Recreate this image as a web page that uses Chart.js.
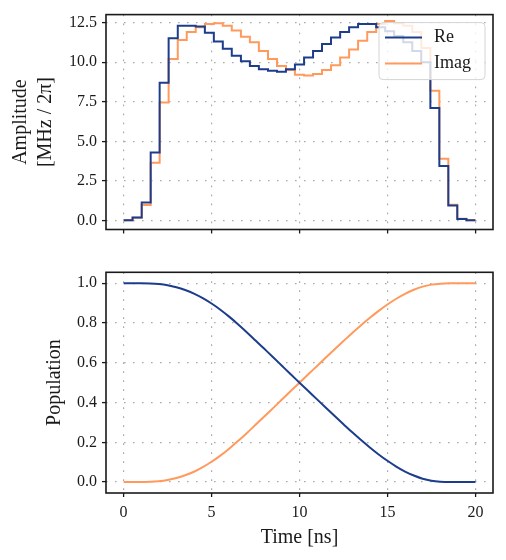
<!DOCTYPE html>
<html>
<head>
<meta charset="utf-8">
<title>Pulse amplitude and population</title>
<script src="https://cdn.jsdelivr.net/npm/chart.js@4.4.0/dist/chart.umd.min.js"></script>
<style>
    body { margin: 0; background: #ffffff; }
    #wrap { position: relative; width: 506px; height: 560px; }
    .panel { position: absolute; left: 0; }
    #top-panel { top: 0; }
    #bottom-panel { top: 250px; }
</style>
</head>
<body>
<div id="wrap">
    <div class="panel" id="top-panel"><canvas id="ampChart" width="506" height="250"></canvas></div>
    <div class="panel" id="bottom-panel"><canvas id="popChart" width="506" height="310"></canvas></div>
</div>

<script>
// data //

// start of every piecewise constant step (last entry = end of pulse)
const stepTime = [0.00, 0.51, 1.03, 1.54, 2.05, 2.56, 3.08, 3.59, 4.10, 4.62,
                  5.13, 5.64, 6.15, 6.67, 7.18, 7.69, 8.21, 8.72, 9.23, 9.74,
                  10.26, 10.77, 11.28, 11.79, 12.31, 12.82, 13.33, 13.85, 14.36, 14.87,
                  15.38, 15.90, 16.41, 16.92, 17.44, 17.95, 18.46, 18.97, 19.49, 20.00];

// amplitude per step [MHz / 2pi]
const ampRe = [0.02, 0.20, 1.15, 4.30, 8.70, 11.50, 12.30, 12.30, 12.25, 11.85,
               11.30, 10.85, 10.40, 10.05, 9.75, 9.55, 9.45, 9.40, 9.55, 9.85,
               10.30, 10.70, 11.15, 11.55, 11.90, 12.20, 12.40, 12.40, 12.20, 11.95,
               11.65, 11.25, 10.70, 10.00, 7.10, 3.45, 0.95, 0.10, 0.02];

const ampImag = [0.02, 0.18, 0.98, 3.65, 7.45, 10.20, 11.40, 11.90, 12.20, 12.40,
                 12.45, 12.30, 12.00, 11.60, 11.25, 10.70, 10.20, 9.75, 9.50, 9.20,
                 9.15, 9.25, 9.50, 9.80, 10.30, 10.80, 11.35, 11.90, 12.40, 12.60,
                 12.45, 12.30, 11.90, 10.90, 8.20, 3.90, 1.00, 0.12, 0.03];

const popTime = [0, 0.5, 1, 1.5, 2, 2.5, 3, 3.5, 4, 4.5,
                 5, 5.5, 6, 6.5, 7, 7.5, 8, 8.5, 9, 9.5,
                 10, 10.5, 11, 11.5, 12, 12.5, 13, 13.5, 14, 14.5,
                 15, 15.5, 16, 16.5, 17, 17.5, 18, 18.5, 19, 19.5, 20];

const popRe = [1.000, 1.000, 1.000, 0.999, 0.996, 0.990, 0.980, 0.966, 0.948, 0.925,
               0.898, 0.867, 0.832, 0.794, 0.754, 0.712, 0.670, 0.628, 0.585, 0.542,
               0.500, 0.458, 0.416, 0.374, 0.332, 0.291, 0.250, 0.211, 0.174, 0.139,
               0.107, 0.078, 0.053, 0.033, 0.017, 0.007, 0.002, 0.000, 0.000, 0.000, 0.000];

const popImag = [0.000, 0.000, 0.000, 0.001, 0.004, 0.010, 0.020, 0.034, 0.052, 0.075,
                 0.102, 0.133, 0.168, 0.206, 0.246, 0.288, 0.330, 0.372, 0.415, 0.458,
                 0.500, 0.542, 0.584, 0.626, 0.668, 0.709, 0.750, 0.789, 0.826, 0.861,
                 0.893, 0.922, 0.947, 0.967, 0.983, 0.993, 0.998, 1.000, 1.000, 1.000, 1.000];

const seriesNames = ['Re', 'Imag'];
const timeTicks = [0, 5, 10, 15, 20];
const ampTicks = [0, 2.5, 5, 7.5, 10, 12.5];
const popTicks = [0, 0.2, 0.4, 0.6, 0.8, 1.0];

// styles //

const blue = '#1c3d8c';
const orange = '#ff9a5c';
const ink = '#1a1a1a';
const gridColor = '#ababab';
const gridDash = [1.6, 7.4];

Chart.defaults.font.family = '"Liberation Serif", "DejaVu Serif", serif';
Chart.defaults.color = ink;

// steps: value k is held from stepTime[k] to stepTime[k+1]
function stepPoints(values) {
    return stepTime.map((t, i) => ({ x: t, y: values[Math.min(i, values.length - 1)] }));
}

function pairPoints(times, values) {
    return times.map((t, i) => ({ x: t, y: values[i] }));
}

// full box around the plot area, like the matplotlib spines
const framePlugin = {
    id: 'frame',
    afterDatasetsDraw(chart) {
        const { ctx, chartArea: a } = chart;
        ctx.save();
        ctx.strokeStyle = ink;
        ctx.lineWidth = 1.6;
        ctx.strokeRect(a.left, a.top, a.right - a.left, a.bottom - a.top);
        ctx.restore();
    }
};

// legend in the upper right corner, on top of the lines
const cornerLegend = {
    id: 'cornerLegend',
    afterDatasetsDraw(chart) {
        const { ctx, chartArea: a } = chart;
        const w = 106, h = 57;
        const x = a.right - 8 - w, y = a.top + 8;
        ctx.save();
        ctx.beginPath();
        ctx.roundRect(x, y, w, h, 4);
        ctx.fillStyle = 'rgba(255, 255, 255, 0.8)';
        ctx.fill();
        ctx.strokeStyle = '#d4d4d4';
        ctx.lineWidth = 1;
        ctx.stroke();
        chart.data.datasets.forEach((ds, i) => {
            const ly = y + 15 + i * 26;
            ctx.strokeStyle = ds.borderColor;
            ctx.lineWidth = 2;
            ctx.beginPath();
            ctx.moveTo(x + 6, ly);
            ctx.lineTo(x + 43, ly);
            ctx.stroke();
            ctx.fillStyle = ink;
            ctx.font = '18px "Liberation Serif", serif';
            ctx.textBaseline = 'middle';
            ctx.fillText(ds.label, x + 55, ly);
        });
        ctx.restore();
    }
};

function gridOpts() {
    return { color: gridColor, lineWidth: 1.2, tickLength: 4, tickColor: ink, tickWidth: 1.3 };
}

function timeAxis(showLabels, height) {
    return {
        type: 'linear',
        min: -1,
        max: 21,
        afterBuildTicks: s => { s.ticks = timeTicks.map(v => ({ value: v })); },
        afterFit: s => { s.height = height; },
        ticks: {
            callback: v => showLabels ? String(v) : '',
            font: { size: 16 },
            padding: 6,
            maxRotation: 0
        },
        title: {
            display: showLabels,
            text: 'Time [ns]',
            font: { size: 20 },
            padding: { top: 0, bottom: 10 }
        },
        grid: gridOpts(),
        border: { display: false, dash: gridDash }
    };
}

const baseOptions = {
    responsive: false,
    animation: false,
    events: [],
    plugins: { legend: { display: false }, tooltip: { enabled: false } }
};

// top: pulse amplitude //

new Chart(document.getElementById('ampChart'), {
    type: 'line',
    data: {
        datasets: [
            {
                label: seriesNames[0],
                data: stepPoints(ampRe),
                borderColor: blue,
                borderWidth: 2,
                pointRadius: 0,
                stepped: true,
                fill: false
            },
            {
                label: seriesNames[1],
                data: stepPoints(ampImag),
                borderColor: orange,
                borderWidth: 2,
                pointRadius: 0,
                stepped: true,
                fill: false
            }
        ]
    },
    options: {
        ...baseOptions,
        layout: { padding: { left: 0, right: 13, top: 12, bottom: 0 } },
        scales: {
            x: timeAxis(false, 20.5),
            y: {
                min: -0.56,
                max: 13.0,
                afterBuildTicks: s => { s.ticks = ampTicks.map(v => ({ value: v })); },
                afterFit: s => { s.width = 106; },
                ticks: { callback: v => Number(v).toFixed(1), font: { size: 16 }, padding: 5 },
                title: {
                    display: true,
                    text: ['Amplitude', '[MHz / 2π]'],
                    font: { size: 20, lineHeight: 1.25 },
                    padding: { top: 8.5, bottom: 0 }
                },
                grid: gridOpts(),
                border: { display: false, dash: gridDash }
            }
        }
    },
    plugins: [framePlugin, cornerLegend]
});

// bottom: population //

new Chart(document.getElementById('popChart'), {
    type: 'line',
    data: {
        datasets: [
            {
                label: seriesNames[0],
                data: pairPoints(popTime, popRe),
                borderColor: blue,
                borderWidth: 2,
                pointRadius: 0,
                cubicInterpolationMode: 'monotone',
                fill: false
            },
            {
                label: seriesNames[1],
                data: pairPoints(popTime, popImag),
                borderColor: orange,
                borderWidth: 2,
                pointRadius: 0,
                cubicInterpolationMode: 'monotone',
                fill: false
            }
        ]
    },
    options: {
        ...baseOptions,
        layout: { padding: { left: 0, right: 13, top: 22.3, bottom: 0 } },
        scales: {
            x: timeAxis(true, 67),
            y: {
                min: -0.055,
                max: 1.055,
                afterBuildTicks: s => { s.ticks = popTicks.map(v => ({ value: v })); },
                afterFit: s => { s.width = 106; },
                ticks: { callback: v => Number(v).toFixed(1), font: { size: 16 }, padding: 5 },
                title: {
                    display: true,
                    text: 'Population',
                    font: { size: 20 },
                    padding: { top: 43, bottom: 0 }
                },
                grid: gridOpts(),
                border: { display: false, dash: gridDash }
            }
        }
    },
    plugins: [framePlugin]
});
</script>
</body>
</html>
